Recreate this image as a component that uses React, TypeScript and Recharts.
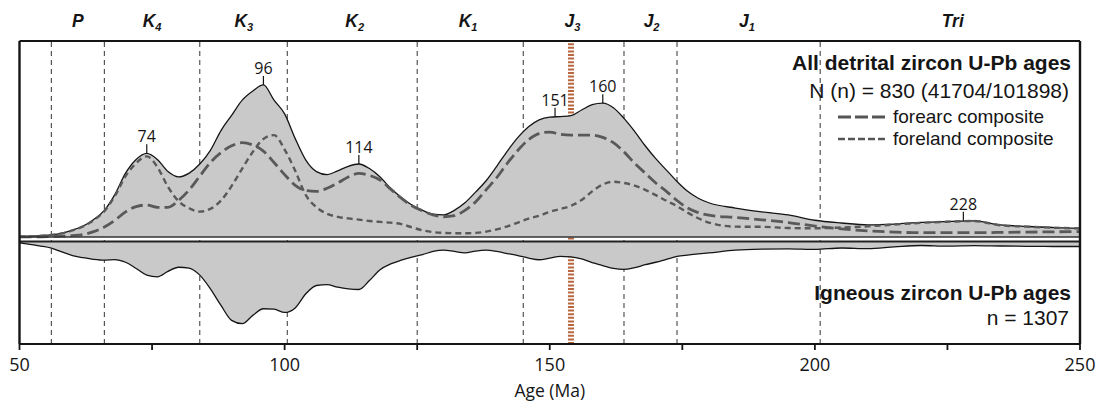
import React from "react";
import {
  ComposedChart,
  Area,
  Line,
  XAxis,
  YAxis,
  ReferenceLine,
  ReferenceDot,
} from "recharts";

// age grid (Ma)
const ages = [
  50, 52, 54, 56, 58, 60, 62, 64, 66, 68, 70, 72, 74, 76, 78, 80, 82, 84, 86, 88,
  90, 92, 94, 96, 98, 100, 102, 104, 106, 108, 110, 112, 114, 116, 118, 120, 122,
  124, 126, 128, 130, 132, 134, 136, 138, 140, 142, 144, 146, 148, 150, 152, 154,
  156, 158, 160, 162, 164, 166, 168, 170, 172, 174, 176, 178, 180, 185, 190, 195,
  200, 205, 210, 215, 220, 225, 230, 235, 240, 245, 250,
];

// all detrital zircon (relative probability, peak = 100)
const allDetrital = [
  0.3, 0.5, 0.9, 1.4, 2.5, 4.5, 7.2, 11.5, 17.5, 28, 42, 51, 55, 51, 43, 39.5, 42,
  48, 57, 70, 80, 90, 96, 100, 90, 81, 64.7, 50.5, 43, 41, 43.5, 46.5, 48, 45,
  39.5, 32, 26, 21, 17.5, 15, 14.5, 17.5, 22.5, 29.5, 37, 46.5, 56.5, 65.5, 72.5,
  77, 78.8, 79.2, 79.8, 83.5, 87, 88, 85, 78, 69.5, 60, 51.5, 44, 36.5, 30, 25.5,
  22.5, 19, 16.5, 14.5, 11, 9.2, 8, 8.5, 9.6, 10.2, 10.6, 7.9, 6.9, 6.2, 5.7,
];

const forearc = [
  0, 0, 0.1, 0.3, 0.5, 0.9, 1.6, 3.5, 6.5, 11, 16.5, 20, 21, 19.5, 19.5, 24, 31,
  40, 49, 55.5, 60, 62, 60.5, 56.5, 49, 41, 34, 30.5, 30, 32, 35.5, 39.5, 41.8,
  40.5, 37.5, 31.5, 25.5, 20.5, 17.2, 14.5, 13.3, 14, 17.5, 23, 31, 39, 48.5, 57,
  64, 68, 69, 67.5, 67, 67, 67, 65.5, 62, 56, 48.5, 42, 35.5, 30, 24, 19, 16,
  14.3, 12.8, 11.3, 9.5, 7.2, 5.3, 4, 3.2, 2.8, 2.8, 2.8, 3, 3.2, 3.4, 3.5,
];

const foreland = [
  0.2, 0.4, 0.8, 1.3, 2.4, 4.3, 7, 11, 17, 27, 40, 48.5, 53, 46, 33, 23.5, 18.9,
  16.7, 18.5, 24, 33.5, 45, 56, 64.5, 67, 57.5, 43.5, 27.5, 19.5, 15.3, 13.2,
  12.2, 11.4, 10.5, 9.9, 9.4, 8.5, 6.3, 4.4, 3.2, 2.7, 2.5, 2.4, 2.7, 3.5, 5, 7,
  9.5, 12, 14, 16.5, 18.4, 20.5, 24.3, 30, 34.5, 36.3, 35.5, 33.8, 31, 27.5, 23.8,
  20.3, 16, 12.3, 9.5, 6.8, 6.7, 5.9, 5.7, 6.2, 7, 8.2, 9.3, 10, 10.5, 7.7, 6.8,
  6.1, 5.6,
];

// igneous zircon (relative probability, drawn downward)
const igneous = [
  1.5, 3.5, 5.5, 8, 12.5, 17, 19.5, 21.5, 22.5, 21.8, 25, 32.5, 40.5, 42.5, 36,
  31, 32, 40.5, 57, 77, 95, 99, 89, 81, 81.5, 85.5, 80, 63, 53, 52, 55, 57, 57.8,
  47, 34, 27, 22.5, 18.8, 15.8, 12, 10.5, 12, 13.6, 11.5, 10.5, 12, 14.5, 17, 20,
  22, 20, 18, 18.5, 21, 25.5, 29, 32.5, 33.7, 31.5, 28, 25, 21.5, 18, 16.3, 15,
  13.8, 10.5, 9.2, 8.8, 9.5, 7.8, 8.6, 6.5, 4.8, 5.5, 4.9, 5.4, 5.8, 6, 6,
];

const periodNames = ["P", "K", "K", "K", "K", "J", "J", "J", "Tri"];
const periodSubs = ["", "4", "3", "2", "1", "3", "2", "1", ""];
const periodCenters = [61, 75, 92.3, 113.2, 134.6, 154.3, 169.2, 187.2, 226];
const periodBoundaries = [56, 66, 84, 100.5, 125, 145, 164, 174, 201];
const j3Marker = 154;

const peakAges = [74, 96, 114, 151, 160, 228];
const peakValues = [55, 100, 48, 79, 88, 10.6];

const ageTicks = [50, 75, 100, 125, 150, 175, 200, 225, 250];
const ageRange = [50, 250];

const rows = ages.map((age, i) => ({
  age,
  all: allDetrital[i],
  forearc: forearc[i],
  foreland: foreland[i],
  igneous: igneous[i],
}));

const INK = "#151515";
const SANS = "'Liberation Sans', Arial, sans-serif";
const MYRIAD = "'Open Sans', 'Liberation Sans', sans-serif";

const PeriodTick = (props: any) => {
  const { x, y, payload } = props;
  const i = periodCenters.indexOf(payload.value);
  return (
    <text
      x={x}
      y={y}
      textAnchor="middle"
      fontFamily={SANS}
      fontWeight="bold"
      fontStyle="italic"
      fontSize={17.5}
      fill={INK}
    >
      {periodNames[i]}
      {periodSubs[i] ? (
        <tspan fontSize={11} dy={4}>
          {periodSubs[i]}
        </tspan>
      ) : null}
    </text>
  );
};

const peakMark = (label: number) => (props: any) => {
  const { cx, cy } = props;
  return (
    <g>
      <line x1={cx} x2={cx} y1={cy - 9} y2={cy} stroke={INK} strokeWidth={1.2} />
      <text
        x={cx}
        y={cy - 11}
        textAnchor="middle"
        fontFamily={MYRIAD}
        fontSize={16}
        fill={INK}
      >
        {label}
      </text>
    </g>
  );
};

const txt: React.CSSProperties = {
  position: "absolute",
  fontFamily: SANS,
  color: INK,
  whiteSpace: "nowrap",
  textAlign: "right",
};

export default function App() {
  return (
    <div
      style={{
        position: "absolute",
        left: 0,
        top: 0,
        width: 1102,
        height: 408,
        background: "#fff",
      }}
    >
      <ComposedChart
        width={1102}
        height={408}
        data={rows}
        margin={{ top: 0, right: 22, bottom: 0, left: 19.5 }}
      >
        <XAxis
          xAxisId="bottom"
          dataKey="age"
          type="number"
          domain={ageRange}
          allowDataOverflow
          ticks={ageTicks}
          interval={0}
          tickFormatter={(v: number) => (v % 50 === 0 ? String(v) : "")}
          height={64}
          tickSize={6}
          tickMargin={8}
          tick={{ fontSize: 18, fontFamily: MYRIAD, fill: INK }}
          tickLine={{ stroke: INK, strokeWidth: 1.8 }}
          axisLine={{ stroke: INK, strokeWidth: 2.2 }}
          label={{
            value: "Age (Ma)",
            position: "insideBottom",
            offset: 11,
            fontSize: 17.5,
            fontFamily: MYRIAD,
            fill: INK,
          }}
        />
        <XAxis
          xAxisId="top"
          orientation="top"
          dataKey="age"
          type="number"
          domain={ageRange}
          allowDataOverflow
          ticks={periodCenters}
          interval={0}
          height={41}
          tickSize={0}
          tickMargin={14}
          tickLine={false}
          tick={<PeriodTick />}
          axisLine={{ stroke: INK, strokeWidth: 2.2 }}
        />
        <YAxis
          yAxisId="upper"
          type="number"
          domain={[-70.4, 128.9]}
          allowDataOverflow
          width={0}
          tick={false}
          tickLine={false}
          axisLine={false}
        />
        <YAxis
          yAxisId="lower"
          orientation="right"
          type="number"
          reversed
          domain={[-241.6, 123.5]}
          allowDataOverflow
          width={0}
          tick={false}
          tickLine={false}
          axisLine={false}
        />

        {periodBoundaries.map((b) => (
          <ReferenceLine
            key={b}
            x={b}
            xAxisId="bottom"
            yAxisId="upper"
            stroke="#333"
            strokeWidth={1}
            strokeDasharray="5 4"
            zIndex={50}
          />
        ))}
        <ReferenceLine
          x={j3Marker}
          xAxisId="bottom"
          yAxisId="upper"
          stroke="#b8673f"
          strokeWidth={6}
          strokeDasharray="2 1.6"
          zIndex={50}
        />

        <Area
          xAxisId="bottom"
          yAxisId="upper"
          dataKey="all"
          type="monotone"
          baseValue={0}
          fill="#c9c9c9"
          fillOpacity={1}
          stroke={INK}
          strokeWidth={1.3}
          isAnimationActive={false}
          zIndex={100}
        />
        <Area
          xAxisId="bottom"
          yAxisId="lower"
          dataKey="igneous"
          type="monotone"
          baseValue={0}
          fill="#c9c9c9"
          fillOpacity={1}
          stroke={INK}
          strokeWidth={1.3}
          isAnimationActive={false}
          zIndex={100}
        />
        <Line
          xAxisId="bottom"
          yAxisId="upper"
          dataKey="forearc"
          type="monotone"
          stroke="#595959"
          strokeWidth={2.8}
          strokeDasharray="12 5"
          dot={false}
          isAnimationActive={false}
          zIndex={400}
        />
        <Line
          xAxisId="bottom"
          yAxisId="upper"
          dataKey="foreland"
          type="monotone"
          stroke="#595959"
          strokeWidth={2.4}
          strokeDasharray="6 4"
          dot={false}
          isAnimationActive={false}
          zIndex={400}
        />

        <ReferenceLine
          y={0}
          xAxisId="bottom"
          yAxisId="upper"
          stroke="#333"
          strokeWidth={1.5}
          zIndex={450}
        />
        <ReferenceLine
          y={0}
          xAxisId="bottom"
          yAxisId="lower"
          stroke="#222"
          strokeWidth={2}
          zIndex={450}
        />
        {/* left and right frame */}
        {ageRange.map((edge) => (
          <ReferenceLine
            key={`edge-${edge}`}
            x={edge}
            xAxisId="bottom"
            yAxisId="upper"
            stroke={INK}
            strokeWidth={2.4}
            zIndex={500}
          />
        ))}

        {peakAges.map((a, i) => (
          <ReferenceDot
            key={a}
            x={a}
            y={peakValues[i]}
            xAxisId="bottom"
            yAxisId="upper"
            r={0}
            shape={peakMark(a)}
            zIndex={600}
          />
        ))}
      </ComposedChart>

      <div
        style={{
          ...txt,
          right: 31,
          top: 51,
          fontSize: 21,
          fontWeight: "bold",
          lineHeight: "24px",
        }}
      >
        All detrital zircon U-Pb ages
      </div>
      <div style={{ ...txt, right: 33, top: 78.5, fontSize: 21, lineHeight: "24px" }}>
        N (n) = 830 (41704/101898)
      </div>
      <div
        style={{
          ...txt,
          left: 838,
          top: 106,
          height: 22,
          display: "flex",
          alignItems: "center",
          fontSize: 19,
          lineHeight: "22px",
        }}
      >
        <svg width={50} height={4}>
          <line x1={0} x2={50} y1={2} y2={2} stroke="#555" strokeWidth={2.8} strokeDasharray="13 4" />
        </svg>
        <span style={{ marginLeft: 5 }}>forearc composite</span>
      </div>
      <div
        style={{
          ...txt,
          left: 838,
          top: 128,
          height: 22,
          display: "flex",
          alignItems: "center",
          fontSize: 19,
          lineHeight: "22px",
        }}
      >
        <svg width={50} height={4}>
          <line x1={0} x2={50} y1={2} y2={2} stroke="#555" strokeWidth={2.4} strokeDasharray="7 3" />
        </svg>
        <span style={{ marginLeft: 5 }}>foreland composite</span>
      </div>
      <div
        style={{
          ...txt,
          right: 31,
          top: 281,
          fontSize: 21,
          fontWeight: "bold",
          lineHeight: "24px",
        }}
      >
        Igneous zircon U-Pb ages
      </div>
      <div style={{ ...txt, right: 33, top: 306, fontSize: 21, lineHeight: "24px" }}>
        n = 1307
      </div>
    </div>
  );
}
